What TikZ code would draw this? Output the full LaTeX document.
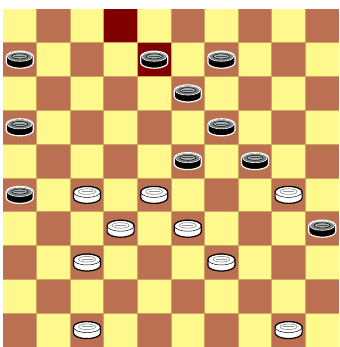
\documentclass[tikz,border=0pt]{standalone}
\definecolor{sqlight}{RGB}{255,248,140}
\definecolor{sqdark}{RGB}{188,112,82}
\definecolor{sqmark}{RGB}{128,0,0}
\definecolor{gridc}{RGB}{205,165,95}
\definecolor{pcgray}{RGB}{120,128,128}
\definecolor{pcgraylt}{RGB}{170,176,176}
\definecolor{wring}{RGB}{150,150,150}
\tikzset{
  pcbody/.style={line width=1.2pt},
  blackpc/.pic={
    \filldraw[pcbody, fill=black, draw=white]
      (-13.5,3) -- (-13.5,-3) arc[start angle=180,end angle=360,x radius=13.5,y radius=5.5]
      -- (13.5,3) arc[start angle=0,end angle=180,x radius=13.5,y radius=5.5] -- cycle;
    \filldraw[fill=pcgray, draw=white, line width=0.6pt] (0,3) ellipse[x radius=12.3, y radius=4.6];
    \filldraw[fill=pcgraylt, draw=black, line width=0.5pt] (0,3.3) ellipse[x radius=8, y radius=2.5];
    \draw[black!70, line width=0.7pt] (-5.5,3.3) -- (5.5,3.3);
  },
  whitepc/.pic={
    \filldraw[pcbody, fill=white, draw=black]
      (-13.5,3) -- (-13.5,-3) arc[start angle=180,end angle=360,x radius=13.5,y radius=5.5]
      -- (13.5,3) arc[start angle=0,end angle=180,x radius=13.5,y radius=5.5] -- cycle;
    \draw[black, line width=0.5pt] (0,3) ellipse[x radius=13.5, y radius=5.5];
    \filldraw[fill=white, draw=wring, line width=0.7pt] (0,3.3) ellipse[x radius=8.5, y radius=2.8];
    \draw[wring, line width=0.6pt] (-5.5,3.3) -- (5.5,3.3);
  }
}
\begin{document}
\begin{tikzpicture}[x=1pt,y=1pt]
\useasboundingbox (0,0) rectangle (339,347);
\fill[white] (0,0) rectangle (339,347);
\def\sw{33.6}
\def\sh{33.8}
% squares
\foreach \r in {1,...,10}{
  \foreach \c in {1,...,10}{
    \pgfmathtruncatemacro{\p}{\r+\c}
    \pgfmathsetmacro{\xa}{3+(\c-1)*\sw}
    \pgfmathsetmacro{\ya}{338-(\r-1)*\sh}
    \ifodd\p
      \fill[sqdark] (\xa,\ya) rectangle ++(\sw,-\sh);
    \else
      \fill[sqlight] (\xa,\ya) rectangle ++(\sw,-\sh);
    \fi
  }
}
% highlighted squares
\fill[sqmark] ({3+3*\sw},338) rectangle ++(\sw,-\sh);
\fill[sqmark] ({3+4*\sw},{338-\sh}) rectangle ++(\sw,-\sh);
% grid lines
\foreach \i in {1,...,9}{
  \draw[gridc, line width=0.8pt] ({3+\i*\sw},0) -- ({3+\i*\sw},338);
  \draw[gridc, line width=0.8pt] (3,{338-\i*\sh}) -- (339,{338-\i*\sh});
}
% black pieces (row, col)
\foreach \r/\c in {2/1,2/5,2/7,3/6,4/1,4/7,5/6,5/8,6/1,7/10}{
  \pic at ({3+(\c-0.5)*\sw},{338-(\r-0.5)*\sh}) {blackpc};
}
% white pieces
\foreach \r/\c in {6/3,6/5,6/9,7/4,7/6,8/3,8/7,10/3,10/9}{
  \pic at ({3+(\c-0.5)*\sw},{338-(\r-0.5)*\sh}) {whitepc};
}
\end{tikzpicture}
\end{document}
